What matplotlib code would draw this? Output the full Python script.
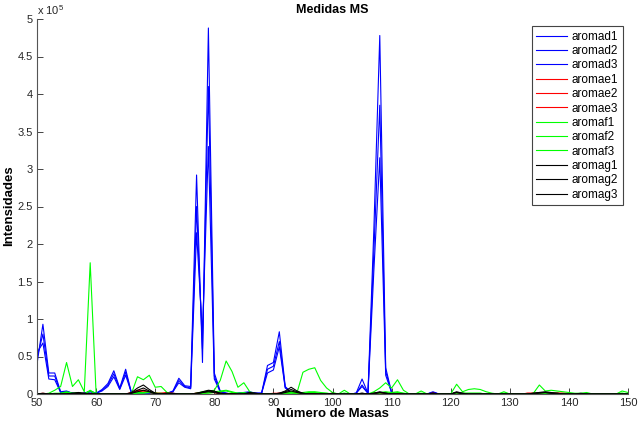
import numpy as np
import matplotlib
matplotlib.use("Agg")
import matplotlib.pyplot as plt

plt.rcParams['font.family'] = ['Liberation Sans', 'DejaVu Sans']
plt.rcParams['mathtext.fontset'] = 'custom'
plt.rcParams['mathtext.rm'] = 'Liberation Sans'
plt.rcParams['mathtext.it'] = 'Liberation Sans'

# masses 50..150, intensities in thousands
masas = list(range(50, 151))

aromad1 = [40, 93, 28, 28, 3, 4, 1, 0, 1, 4,
           1, 6, 14, 31, 8, 33, 1, 0, 0, 0,
           0, 0, 1, 4, 21, 11, 10, 292, 42, 488,
           28, 4, 1, 0, 1, 2, 3, 1, 1, 38,
           42, 83, 10, 2, 1, 0, 0, 0, 0, 0,
           0, 0, 0, 0, 1, 20, 1, 220, 478, 35,
           2, 0, 0, 0, 0, 0, 0, 3, 0, 0,
           0, 0, 0, 0, 0, 0, 0, 0, 0, 0,
           0, 0, 0, 0, 0, 0, 0, 0, 0, 0,
           0, 0, 0, 0, 0, 0, 0, 0, 0, 0,
           0]
aromad2 = [48, 80, 24, 24, 2, 3, 1, 0, 1, 3,
           1, 5, 12, 27, 7, 29, 1, 0, 0, 0,
           0, 0, 1, 3, 18, 10, 8, 250, 60, 410,
           24, 3, 1, 0, 1, 2, 2, 1, 1, 33,
           37, 70, 9, 2, 1, 0, 0, 0, 0, 0,
           0, 0, 0, 0, 1, 12, 1, 190, 385, 30,
           2, 0, 0, 0, 0, 0, 0, 2, 0, 0,
           0, 0, 0, 0, 0, 0, 0, 0, 0, 0,
           0, 0, 0, 0, 0, 0, 0, 0, 0, 0,
           0, 0, 0, 0, 0, 0, 0, 0, 0, 0,
           0]
aromad3 = [55, 68, 20, 19, 2, 3, 1, 0, 1, 3,
           1, 4, 10, 23, 6, 25, 1, 0, 0, 0,
           0, 0, 1, 3, 15, 9, 7, 215, 80, 330,
           20, 3, 1, 0, 1, 1, 2, 1, 1, 28,
           32, 63, 8, 2, 1, 0, 0, 0, 0, 0,
           0, 0, 0, 0, 1, 10, 1, 165, 315, 25,
           2, 0, 0, 0, 0, 0, 0, 2, 0, 0,
           0, 0, 0, 0, 0, 0, 0, 0, 0, 0,
           0, 0, 0, 0, 0, 0, 0, 0, 0, 0,
           0, 0, 0, 0, 0, 0, 0, 0, 0, 0,
           0]

aromae1 = [0, 1, 0, 0, 0, 0, 0, 1, 0, 0,
           0, 0, 0, 0, 0, 0, 1, 4, 5, 3,
           1, 1, 2, 1, 0, 0, 0, 1, 2, 3,
           3, 1, 0, 0, 0, 0, 1, 0, 0, 0,
           1, 1, 2, 3, 2, 0, 0, 0, 0, 0,
           1, 0, 0, 0, 0, 0, 0, 1, 2, 1,
           1, 0, 0, 0, 0, 0, 0, 1, 0, 0,
           0, 1, 0, 0, 0, 0, 0, 0, 0, 0,
           0, 0, 0, 1, 1, 0, 1, 1, 1, 1,
           1, 0, 0, 0, 0, 0, 0, 0, 0, 0,
           0]
aromae2 = [0, 0, 0, 0, 0, 0, 0, 1, 0, 0,
           0, 0, 0, 0, 0, 0, 2, 5, 4, 2,
           1, 1, 1, 0, 0, 0, 0, 1, 2, 2,
           2, 1, 0, 0, 0, 0, 0, 0, 0, 0,
           0, 1, 1, 2, 1, 0, 0, 0, 0, 0,
           0, 0, 0, 0, 0, 0, 0, 1, 1, 1,
           0, 0, 0, 0, 0, 0, 0, 1, 0, 0,
           0, 1, 0, 0, 0, 0, 0, 0, 0, 0,
           0, 0, 0, 1, 1, 1, 0, 1, 1, 1,
           0, 0, 0, 0, 0, 0, 0, 0, 0, 0,
           0]
aromae3 = [0, 0, 0, 0, 0, 0, 0, 0, 0, 0,
           0, 0, 0, 0, 0, 0, 1, 3, 4, 2,
           1, 0, 1, 0, 0, 0, 0, 0, 1, 2,
           2, 0, 0, 0, 0, 0, 0, 0, 0, 0,
           0, 0, 1, 2, 1, 0, 0, 0, 0, 0,
           0, 0, 0, 0, 0, 0, 0, 0, 1, 1,
           0, 0, 0, 0, 0, 0, 0, 0, 0, 0,
           0, 0, 0, 0, 0, 0, 0, 0, 0, 0,
           0, 0, 0, 0, 1, 0, 0, 1, 1, 0,
           0, 0, 0, 0, 0, 0, 0, 0, 0, 0,
           0]

aromaf1 = [0, 0, 1, 5, 10, 42, 10, 19, 3, 175,
           1, 0, 0, 0, 0, 0, 1, 23, 19, 25,
           9, 10, 2, 0, 0, 0, 0, 1, 3, 4,
           5, 18, 44, 30, 9, 15, 3, 0, 0, 0,
           0, 0, 2, 3, 2, 29, 33, 35, 18, 8,
           2, 0, 5, 0, 0, 0, 0, 3, 8, 15,
           8, 19, 5, 0, 0, 4, 0, 0, 0, 0,
           0, 13, 3, 6, 7, 6, 3, 1, 0, 3,
           0, 0, 0, 0, 1, 12, 4, 5, 4, 3,
           2, 1, 1, 2, 0, 0, 0, 0, 0, 4,
           2]
aromaf2 = [0, 0, 0, 1, 1, 3, 1, 2, 0, 5,
           0, 0, 0, 0, 0, 0, 0, 2, 2, 3,
           1, 1, 0, 0, 0, 0, 0, 0, 1, 2,
           3, 4, 5, 3, 1, 2, 0, 0, 0, 0,
           0, 0, 1, 2, 1, 2, 3, 3, 2, 1,
           0, 0, 1, 0, 0, 0, 0, 1, 2, 3,
           2, 3, 1, 0, 0, 1, 0, 0, 0, 0,
           0, 2, 1, 1, 1, 1, 0, 0, 0, 1,
           0, 0, 0, 0, 0, 2, 1, 1, 1, 0,
           0, 0, 0, 0, 0, 0, 0, 0, 0, 1,
           0]
aromaf3 = [0, 0, 0, 0, 1, 2, 1, 1, 0, 4,
           0, 0, 0, 0, 0, 0, 0, 1, 1, 2,
           1, 0, 0, 0, 0, 0, 0, 0, 1, 1,
           2, 3, 4, 2, 1, 1, 0, 0, 0, 0,
           0, 0, 0, 1, 1, 1, 2, 2, 1, 1,
           0, 0, 1, 0, 0, 0, 0, 1, 1, 2,
           1, 2, 1, 0, 0, 0, 0, 0, 0, 0,
           0, 1, 1, 1, 1, 1, 0, 0, 0, 0,
           0, 0, 0, 0, 0, 1, 1, 1, 0, 0,
           0, 0, 0, 0, 0, 0, 0, 0, 0, 1,
           0]

aromag1 = [0, 1, 0, 0, 0, 0, 1, 2, 1, 0,
           0, 0, 0, 0, 0, 0, 2, 8, 12, 6,
           1, 0, 1, 1, 0, 0, 0, 1, 3, 5,
           4, 1, 0, 0, 0, 0, 2, 1, 0, 0,
           0, 1, 4, 9, 4, 1, 0, 0, 0, 0,
           1, 0, 0, 0, 0, 1, 0, 1, 3, 1,
           0, 0, 0, 0, 0, 0, 0, 1, 0, 0,
           0, 3, 1, 0, 0, 0, 0, 0, 0, 0,
           0, 0, 0, 0, 1, 2, 3, 2, 1, 0,
           0, 0, 1, 0, 0, 0, 0, 0, 0, 0,
           0]
aromag2 = [0, 0, 0, 0, 0, 0, 1, 1, 1, 0,
           0, 0, 0, 0, 0, 0, 1, 5, 8, 4,
           1, 0, 1, 0, 0, 0, 0, 1, 2, 4,
           3, 1, 0, 0, 0, 0, 1, 1, 0, 0,
           0, 1, 3, 6, 3, 1, 0, 0, 0, 0,
           0, 0, 0, 0, 0, 1, 0, 1, 2, 1,
           0, 0, 0, 0, 0, 0, 0, 1, 0, 0,
           0, 2, 1, 0, 0, 0, 0, 0, 0, 0,
           0, 0, 0, 0, 1, 2, 2, 1, 1, 0,
           0, 0, 0, 0, 0, 0, 0, 0, 0, 0,
           0]
aromag3 = [0, 0, 0, 0, 0, 0, 0, 1, 0, 0,
           0, 0, 0, 0, 0, 0, 1, 3, 5, 3,
           0, 0, 0, 0, 0, 0, 0, 0, 2, 3,
           2, 0, 0, 0, 0, 0, 1, 0, 0, 0,
           0, 0, 2, 4, 2, 0, 0, 0, 0, 0,
           0, 0, 0, 0, 0, 0, 0, 0, 2, 1,
           0, 0, 0, 0, 0, 0, 0, 0, 0, 0,
           0, 2, 0, 0, 0, 0, 0, 0, 0, 0,
           0, 0, 0, 0, 0, 1, 2, 1, 0, 0,
           0, 0, 0, 0, 0, 0, 0, 0, 0, 0,
           0]

series = [
    ('aromad1', aromad1, '#0000ff'), ('aromad2', aromad2, '#0000ff'), ('aromad3', aromad3, '#0000ff'),
    ('aromae1', aromae1, '#ff0000'), ('aromae2', aromae2, '#ff0000'), ('aromae3', aromae3, '#ff0000'),
    ('aromaf1', aromaf1, '#00ff00'), ('aromaf2', aromaf2, '#00ff00'), ('aromaf3', aromaf3, '#00ff00'),
    ('aromag1', aromag1, '#000000'), ('aromag2', aromag2, '#000000'), ('aromag3', aromag3, '#000000'),
]

fig = plt.figure(figsize=(6.42, 4.33), dpi=100)
ax = fig.add_axes([37 / 642, 39 / 433, 591 / 642, 375 / 433])

for name, vals, col in series:
    ax.plot(masas, np.array(vals) * 1000, color=col, lw=0.8, label=name)

axcol = '#262626'
ax.set_xlim(50, 150)
ax.set_ylim(0, 5e5)
ax.set_xticks(range(50, 151, 10))
yt = np.arange(0, 5.01, 0.5)
ax.set_yticks(yt * 1e5)
ax.set_yticklabels(['%g' % v for v in yt])
ax.tick_params(direction='in', length=4, width=0.6, colors=axcol, labelsize=8, pad=3)
for s in ['top', 'right']:
    ax.spines[s].set_visible(False)
for s in ['left', 'bottom']:
    ax.spines[s].set_color('#555555')
    ax.spines[s].set_linewidth(0.8)

ax.text(0.0, 1.005, r'x 10$^{5}$', transform=ax.transAxes, ha='left', va='bottom',
        fontsize=8, color=axcol)

fig.text(332 / 642, 1 - 10 / 433, 'Medidas MS', ha='center', va='center',
         fontsize=9, fontweight='bold', color='black')
fig.text(332 / 642, 1 - 414 / 433, 'Número de Masas', ha='center', va='center',
         fontsize=9.5, fontweight='bold', color='black')
fig.text(9 / 642, 1 - 206 / 433, 'Intensidades', ha='center', va='center', rotation=90,
         fontsize=9.5, fontweight='bold', color='black')

leg = ax.legend(loc='upper right', bbox_to_anchor=(623 / 642, 1 - 26 / 433),
                bbox_transform=fig.transFigure, borderaxespad=0, fontsize=8.5,
                fancybox=False, framealpha=1, edgecolor='#444444',
                handlelength=2.6, handletextpad=0.4, labelspacing=0.2,
                borderpad=0.4)
leg.get_frame().set_linewidth(0.8)

fig.savefig('out.png', dpi=100)
